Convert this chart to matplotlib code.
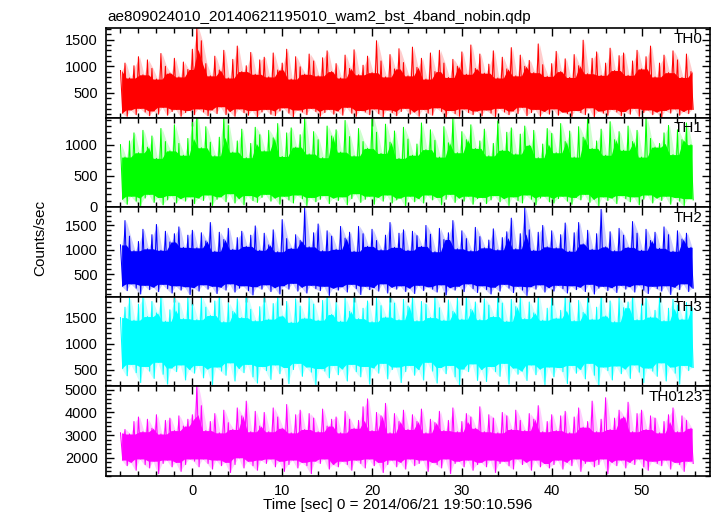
import numpy as np
import matplotlib
matplotlib.use("Agg")
import matplotlib.pyplot as plt
from matplotlib.ticker import MultipleLocator

plt.rcParams['font.family'] = ['Liberation Sans', 'DejaVu Sans']

title = "ae809024010_20140621195010_wam2_bst_4band_nobin.qdp"
xlabel = "Time [sec] 0 = 2014/06/21 19:50:10.596"
ylabel = "Counts/sec"
bands = ["TH0", "TH1", "TH2", "TH3", "TH0123"]
colors = ["#ff0000", "#00ff00", "#0000ff", "#00ffff", "#ff00ff"]

# time bins: start and width (sec); every bin has a peak and a dip value
t_start = -8.0
t_bin = 0.5

# per-bin peak / dip count rates
th0_hi = [920, 1060, 780, 1010, 1180, 840, 1120, 960, 760, 1240, 1000, 870, 1150, 800, 1080, 940,
          1320, 1760, 1480, 1050, 820, 1190, 930, 1300, 780, 1130, 1380, 900, 1010, 1260, 850, 1120,
          1170, 800, 1250, 930, 1060, 1320, 760, 1180, 990, 850, 1230, 1100, 820, 1160, 1290, 900,
          1050, 780, 1210, 960, 1310, 840, 1020, 1190, 880, 1480, 1100, 800, 1220, 950, 1330, 1070,
          820, 1360, 980, 1150, 760, 1250, 900, 1300, 1060, 790, 1130, 1000, 1270, 850, 1400, 960,
          1230, 870, 1040, 1290, 780, 1170, 950, 1350, 820, 1210, 1000, 1110, 880, 1420, 1030, 810,
          1050, 1280, 900, 1140, 790, 1220, 1010, 1490, 860, 1150, 1270, 830, 1060, 1340, 920, 1200,
          1250, 830, 1100, 1300, 950, 1180, 1380, 800, 1060, 1210, 880, 1290, 1120, 790, 1230, 900]
th0_lo = [120, 60, 180, 90, 210, 140, 70, 160, 100, 230, 80, 150, 190, 60, 130, 170,
          90, 200, 140, 70, 180, 110, 240, 90, 150, 60, 200, 130, 80, 170, 40, 140,
          190, 100, 70, 160, 220, 120, 50, 180, 140, 90, 210, 150, 60, 130, 190, 100,
          160, 80, 230, 120, 60, 170, 140, 90, 200, 110, 50, 180, 130, 70, 150, 210,
          100, 140, 60, 190, 120, 80, 220, 150, 40, 170, 110, 60, 200, 130, 90, 160,
          70, 180, 120, 50, 210, 140, 90, 160, 110, 230, 70, 130, 190, 60, 150, 100,
          200, 80, 140, 110, 60, 170, 130, 90, 220, 50, 160, 120, 80, 190, 140, 70,
          150, 100, 210, 60, 130, 180, 90, 140, 40, 170, 120, 200, 80, 150, 110, 190]

th1_hi = [1000, 800, 1060, 1190, 870, 1230, 960, 1140, 780, 1260, 1050, 900, 1320, 1020, 830, 1100,
          1360, 1480, 950, 1290, 1040, 820, 1120, 1470, 1310, 880, 1060, 1250, 790, 1020, 1280, 1160,
          900, 1230, 1110, 1340, 810, 1190, 1270, 960, 1160, 1440, 850, 1210, 1080, 790, 1300, 1140,
          1240, 880, 1390, 1130, 820, 1260, 1050, 940, 1470, 1200, 860, 1330, 1040, 1220, 780, 1280,
          1090, 830, 1010, 1350, 920, 1240, 1070, 800, 1290, 1030, 1450, 870, 1210, 1080, 1320, 940,
          1060, 1250, 820, 1020, 1380, 910, 1200, 1270, 850, 1170, 1300, 990, 1230, 790, 1010, 1260,
          1180, 870, 1340, 1050, 1220, 800, 1290, 1120, 1460, 940, 1060, 1250, 830, 1370, 1080, 1210,
          910, 1300, 1050, 1230, 800, 1440, 1100, 960, 1020, 1190, 1310, 840, 1240, 1080, 1350, 1000]
th1_lo = [120, 40, 170, 90, 10, 140, 200, 70, 150, 30, 110, 180, 60, 130, 90, 160,
          50, 140, 100, 190, 20, 120, 160, 80, 210, 60, 130, 30, 180, 100, 70, 150,
          200, 90, 140, 40, 170, 110, 60, 190, 130, 20, 150, 80, 120, 180, 50, 140,
          100, 160, 30, 130, 210, 70, 120, 170, 40, 150, 90, 190, 60, 110, 140, 10,
          170, 80, 130, 60, 190, 110, 150, 30, 120, 200, 70, 140, 90, 170, 40, 130,
          150, 50, 110, 180, 80, 130, 20, 160, 100, 60, 190, 120, 30, 140, 170, 80,
          60, 130, 170, 90, 40, 150, 110, 200, 70, 120, 10, 160, 100, 140, 50, 180,
          130, 80, 160, 30, 120, 190, 60, 140, 100, 170, 40, 150, 90, 20, 130, 110]

th2_hi = [1100, 1600, 1280, 980, 1170, 1420, 1020, 1310, 1520, 990, 1380, 1160, 1330, 1470, 1050, 1300,
          1400, 1040, 1350, 1180, 1560, 970, 1360, 1210, 1440, 1010, 1250, 1380, 1070, 1300, 1490, 990,
          1340, 1100, 1410, 960, 1620, 1230, 1030, 1310, 1190, 1860, 1060, 1350, 1530, 980, 1390, 1280,
          1010, 1480, 1240, 1360, 970, 1480, 1330, 1070, 1420, 1190, 1000, 1300, 1560, 1050, 1340, 1410,
          990, 1380, 1290, 1070, 1500, 1320, 960, 1440, 1210, 1350, 1600, 1020, 1390, 1230, 980, 1460,
          1270, 1040, 1200, 1430, 1000, 1250, 1370, 1650, 1020, 1330, 1860, 1410, 990, 1360, 1500, 1060,
          1390, 1040, 1310, 1550, 970, 1350, 1560, 1120, 1400, 1010, 1330, 1830, 1060, 1370, 980, 1440,
          1300, 1050, 1580, 1340, 990, 1420, 1190, 1360, 1030, 1470, 1310, 970, 1390, 1220, 1340, 1050]
th2_lo = [250, 160, 300, 210, 90, 270, 180, 230, 140, 290, 200, 110, 260, 170, 240, 80,
          220, 150, 280, 190, 250, 100, 230, 170, 300, 130, 210, 260, 160, 70, 240, 190,
          280, 140, 220, 90, 260, 190, 310, 150, 230, 110, 270, 200, 160, 250, 60, 210,
          170, 240, 130, 290, 200, 80, 250, 180, 220, 150, 300, 110, 230, 190, 260, 140,
          210, 100, 270, 160, 240, 190, 130, 280, 70, 220, 170, 250, 140, 300, 200, 120,
          260, 180, 90, 230, 150, 290, 210, 120, 250, 170, 60, 240, 190, 280, 130, 220,
          150, 270, 200, 110, 260, 180, 230, 140, 290, 90, 210, 250, 160, 220, 120, 270,
          190, 240, 130, 280, 170, 100, 250, 200, 150, 260, 80, 230, 180, 300, 140, 210]

th3_hi = [1500, 1700, 1880, 1450, 1760, 1900, 1520, 1810, 1590, 1940, 1430, 1650, 1870, 1780, 1480, 1910,
          1750, 1460, 1890, 1700, 1540, 1820, 1930, 1420, 1780, 1620, 1860, 1500, 1950, 1660, 1440, 1710,
          1880, 1470, 1770, 1920, 1530, 1810, 1410, 1860, 1720, 1490, 1900, 1760, 1450, 1830, 1940, 1560,
          1790, 1430, 1870, 1620, 1940, 1480, 1680, 1820, 1420, 1890, 1730, 1510, 1910, 1780, 1460, 1850,
          1720, 1900, 1440, 1810, 1760, 1500, 1930, 1690, 1450, 1840, 1620, 1880, 1470, 1950, 1660, 1800,
          1460, 1860, 1740, 1520, 1920, 1780, 1430, 1850, 1710, 1900, 1480, 1800, 1590, 1940, 1450, 1680,
          1870, 1490, 1640, 1910, 1790, 1440, 1830, 1600, 1890, 1470, 1700, 1940, 1530, 1820, 1420, 1880,
          1690, 1800, 1930, 1460, 1760, 1870, 1510, 1640, 1900, 1440, 1680, 1850, 1740, 1470, 1790, 1720]
th3_lo = [520, 380, 600, 440, 250, 560, 470, 330, 640, 410, 220, 530, 460, 590, 300, 500,
          430, 580, 340, 510, 210, 550, 470, 390, 630, 280, 520, 440, 600, 360, 240, 560,
          480, 310, 590, 420, 540, 230, 500, 620, 370, 550, 450, 190, 520, 470, 340, 580,
          400, 510, 280, 600, 460, 360, 560, 220, 530, 430, 620, 320, 500, 550, 250, 460,
          580, 390, 500, 300, 640, 470, 240, 540, 420, 580, 360, 200, 510, 460, 610, 290,
          500, 270, 560, 460, 370, 620, 220, 530, 410, 470, 290, 590, 400, 510, 210, 550,
          360, 540, 460, 230, 580, 430, 500, 320, 620, 390, 190, 550, 480, 300, 570, 420,
          510, 330, 590, 450, 250, 530, 470, 370, 630, 280, 550, 430, 220, 580, 480, 540]

th0123_hi = [3100, 3250, 3050, 3600, 3800, 3150, 3700, 3300, 3900, 3050, 3650, 3750, 3200, 3850, 3400, 3700,
             3900, 5300, 4300, 3200, 3600, 3950, 3100, 4100, 3550, 3250, 4200, 3850, 4500, 3150, 4050, 3400,
             4000, 3150, 4200, 3800, 3300, 4350, 3100, 3900, 4100, 3250, 3950, 3750, 3150, 4150, 3400, 3700,
             3800, 3100, 4050, 3700, 3300, 3650, 4250, 4600, 3200, 4000, 3850, 4400, 3100, 3950, 3600, 4100,
             3250, 3900, 3600, 4150, 3100, 3700, 3550, 4050, 3200, 3650, 4200, 3150, 3600, 3950, 3800, 3300,
             4250, 3150, 3900, 3750, 3100, 4000, 3850, 3250, 4100, 3650, 3200, 3950, 3700, 4300, 3150, 3600,
             3900, 3200, 3850, 4050, 3100, 3800, 4200, 3350, 3600, 4500, 3150, 3700, 4650, 3250, 3750, 4100,
             3800, 4450, 3150, 3950, 4100, 3250, 3850, 3750, 3100, 3600, 3900, 4200, 3150, 3850, 3650, 3300]
th0123_lo = [1900, 1650, 1800, 1450, 1950, 1700, 1550, 1850, 1300, 1750, 1900, 1600, 1800, 1400, 1700, 1950,
             1850, 1600, 1950, 1750, 1500, 1900, 1650, 1800, 1350, 1700, 2000, 1550, 1850, 1650, 1450, 1900,
             1750, 1950, 1600, 1850, 1400, 1700, 1900, 1550, 1800, 1650, 1300, 1850, 1750, 1950, 1500, 1700,
             1600, 1850, 1700, 1450, 1900, 1750, 1550, 1950, 1650, 1800, 1350, 1700, 1900, 1600, 1800, 1500,
             1950, 1650, 1750, 1900, 1400, 1800, 1700, 1550, 1950, 1300, 1750, 1850, 1600, 1900, 1450, 1700,
             1800, 1600, 1900, 1350, 1750, 1850, 1650, 1500, 1950, 1700, 1800, 1450, 1900, 1600, 1750, 1550,
             1700, 1900, 1500, 1800, 1650, 1950, 1400, 1750, 1850, 1600, 1700, 1950, 1300, 1800, 1650, 1900,
             1550, 1800, 1700, 1950, 1600, 1450, 1850, 1750, 1650, 1900, 1500, 1800, 1700, 1400, 1850, 1750]

series_hi = [th0_hi, th1_hi, th2_hi, th3_hi, th0123_hi]
series_lo = [th0_lo, th1_lo, th2_lo, th3_lo, th0123_lo]

# axis limits per panel (qdp style padding)
ylims = [(30, 1712), (-11, 1431), (30, 1870), (175, 1897), (1197, 5145)]
ymajor = [500, 500, 500, 500, 1000]
yminor = [100, 100, 100, 100, 200]


def window(a, n, func):
    # running min / max over n neighbouring bins
    h = n // 2
    p = np.pad(a, h, mode='edge')
    return func.reduce([p[j:j + len(a)] for j in range(n)])


fig, axes = plt.subplots(5, 1, sharex=True, figsize=(7.17, 5.16), dpi=100,
                         gridspec_kw=dict(hspace=0))
fig.subplots_adjust(left=0.148, right=0.990, top=0.945, bottom=0.0775)

for i, ax in enumerate(axes):
    hi = np.array(series_hi[i], dtype=float)
    lo = np.array(series_lo[i], dtype=float)
    t = t_start + t_bin * np.arange(len(hi))
    # zigzag through peak / dip of each bin
    xz = np.column_stack([t, t + t_bin / 2]).ravel()
    yz = np.column_stack([hi, lo]).ravel()
    # light envelope, solid core, then the spikes
    ax.fill_between(t + t_bin / 4, lo, hi, color=colors[i], alpha=0.2, lw=0)
    ax.fill_between(t + t_bin / 4, window(lo, 3, np.maximum), window(hi, 3, np.minimum),
                    color=colors[i], lw=0)
    ax.plot(xz, yz, color=colors[i], lw=0.75)

    ax.set_ylim(*ylims[i])
    ax.yaxis.set_major_locator(MultipleLocator(ymajor[i]))
    ax.yaxis.set_minor_locator(MultipleLocator(yminor[i]))
    ax.xaxis.set_major_locator(MultipleLocator(10))
    ax.xaxis.set_minor_locator(MultipleLocator(2))
    ax.tick_params(which='both', direction='in', top=True, right=True,
                   labelsize=10.5, width=1, pad=6)
    ax.tick_params(which='major', length=6)
    ax.tick_params(which='minor', length=3.5)
    for s in ax.spines.values():
        s.set_linewidth(1.2)
    ax.text(0.988, 0.84, bands[i], transform=ax.transAxes, ha='right',
            va='baseline', fontsize=11)

axes[-1].set_xlim(-9.6, 57.6)

fig.text(107 / 717, 0.959, title, ha='left', va='baseline', fontsize=11)
fig.text(0.554, 0.021, xlabel, ha='center', va='center', fontsize=11)
fig.text(40 / 717, 0.538, ylabel, ha='center', va='center', rotation=90, fontsize=11)

fig.savefig("out.png", dpi=100)
